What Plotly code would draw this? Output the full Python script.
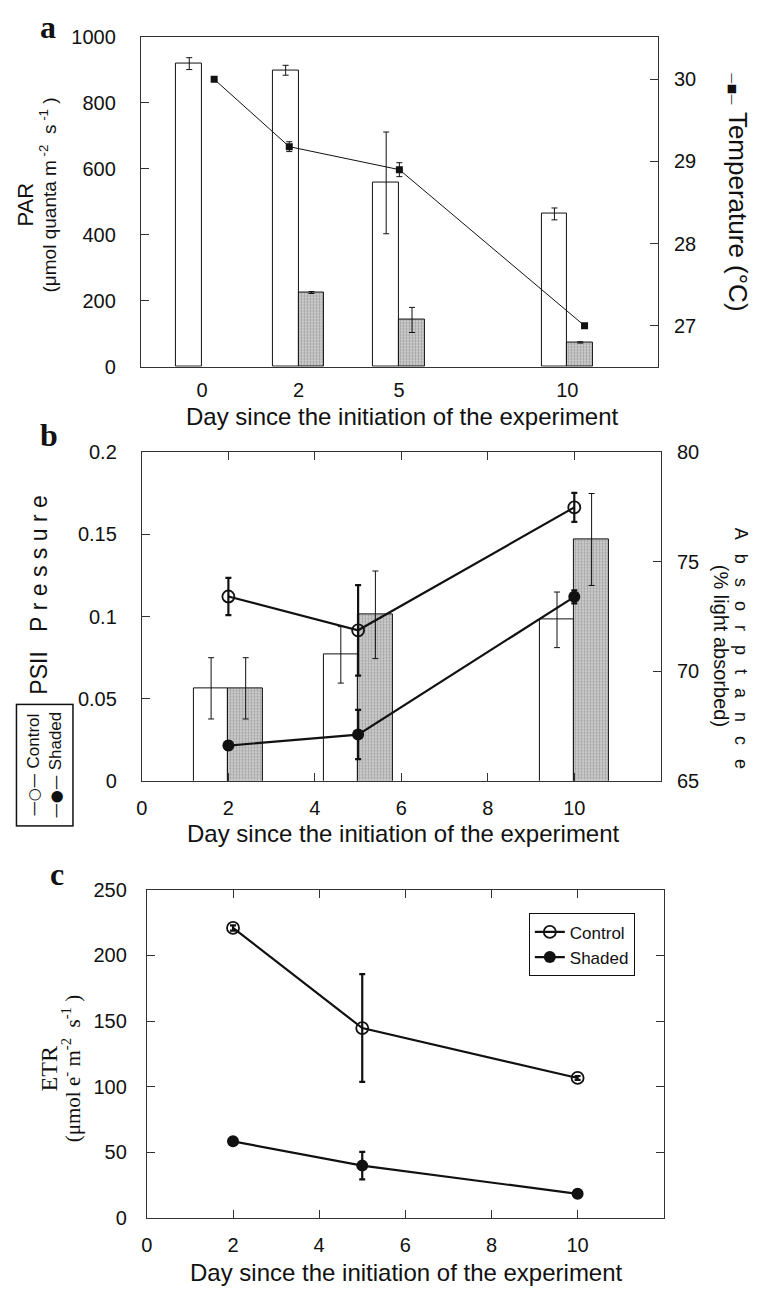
import plotly.graph_objects as go

W, H = 758, 1296

# ---------------- data ----------------
# panel a : PAR bars and temperature
par_day_labels = ["0", "2", "5", "10"]
par_slot = [1.185, 3.05, 4.995, 8.25]          # group positions on panel-a axis
par_control = [918, 898, 557, 463]
par_control_err = [18, 15, 154, 18]
par_shaded = [None, 225, 142, 74]
par_shaded_err = [0, 3, 38, 2]
temp_slot = [1.417, 2.87, 5.0, 8.583]
temperature = [30.0, 29.18, 28.9, 27.0]
temperature_err = [0.0, 0.06, 0.085, 0.02]

# panel b : absorptance bars and PSII pressure
days = [2, 5, 10]
day_ticks = [0, 2, 4, 6, 8, 10]
abs_control = [69.22, 70.75, 72.35]
abs_control_err = [1.4, 1.29, 1.27]
abs_shaded = [69.22, 72.58, 76.02]
abs_shaded_err = [1.4, 2.0, 2.1]
psii_control = [0.1122, 0.0916, 0.1665]
psii_control_err = [0.0113, 0.0276, 0.0088]
psii_shaded = [0.0214, 0.0281, 0.112]
psii_shaded_err = [0.0027, 0.015, 0.004]

# panel c : ETR
etr_control = [221, 144.75, 106.75]
etr_control_err = [2, 41, 1.5]
etr_shaded = [58.5, 40, 18.5]
etr_shaded_err = [1, 10.5, 0]

# ---------------- style ----------------
SANS = "Liberation Sans, Arial, sans-serif"
SERIF = "Liberation Serif, Times New Roman, serif"
INK = "#111111"
AX = "#333333"
TICKF = dict(family=SANS, size=20, color=INK)
shade_marker = dict(color="#c4c4c4", line=dict(color=INK, width=1),
                    pattern=dict(shape=".", fgcolor="#6a6a6a", bgcolor="#d4d4d4",
                                 size=3, solidity=0.45))
white_marker = dict(color="white", line=dict(color=INK, width=1))
thin_err = dict(type="data", color=INK, thickness=1, width=3)
thick_err = dict(type="data", color=INK, thickness=2.2, width=3)


def err(vals, base):
    d = dict(base)
    d["array"] = vals
    return d


def px(x, y):
    return x / W, 1 - y / H


fig = go.Figure()

# ---- panel a ----
fig.add_trace(go.Bar(x=par_slot, y=par_control, width=0.5, offset=-0.5,
                     marker=white_marker, error_y=err(par_control_err, thin_err),
                     xaxis="x", yaxis="y", showlegend=False))
fig.add_trace(go.Bar(x=par_slot, y=par_shaded, width=0.5, offset=0,
                     marker=shade_marker, error_y=err(par_shaded_err, thin_err),
                     xaxis="x", yaxis="y", showlegend=False))
fig.add_trace(go.Scatter(x=temp_slot, y=temperature, mode="lines+markers",
                         line=dict(color=INK, width=1),
                         marker=dict(symbol="square", size=7, color=INK),
                         error_y=err(temperature_err, thin_err),
                         xaxis="x", yaxis="y2", showlegend=False))

# ---- panel b ----
fig.add_trace(go.Bar(x=days, y=abs_control, width=0.8, offset=-0.8,
                     marker=white_marker, error_y=err(abs_control_err, thin_err),
                     xaxis="x2", yaxis="y3", showlegend=False))
fig.add_trace(go.Bar(x=days, y=abs_shaded, width=0.8, offset=0,
                     marker=shade_marker, error_y=err(abs_shaded_err, thin_err),
                     xaxis="x2", yaxis="y3", showlegend=False))
fig.add_trace(go.Scatter(x=days, y=psii_control, mode="lines+markers",
                         line=dict(color=INK, width=2.2),
                         marker=dict(symbol="circle-open", size=12, color=INK,
                                     line=dict(width=1.8, color=INK)),
                         error_y=err(psii_control_err, thick_err),
                         xaxis="x2", yaxis="y4", showlegend=False))
fig.add_trace(go.Scatter(x=days, y=psii_shaded, mode="lines+markers",
                         line=dict(color=INK, width=2.2),
                         marker=dict(symbol="circle", size=12, color=INK),
                         error_y=err(psii_shaded_err, thick_err),
                         xaxis="x2", yaxis="y4", showlegend=False))

# ---- panel c ----
fig.add_trace(go.Scatter(x=days, y=etr_control, mode="lines+markers", name="Control",
                         line=dict(color=INK, width=2.2),
                         marker=dict(symbol="circle-open", size=12, color=INK,
                                     line=dict(width=1.8, color=INK)),
                         error_y=err(etr_control_err, thick_err),
                         xaxis="x3", yaxis="y5"))
fig.add_trace(go.Scatter(x=days, y=etr_shaded, mode="lines+markers", name="Shaded",
                         line=dict(color=INK, width=2.2),
                         marker=dict(symbol="circle", size=12, color=INK),
                         error_y=err(etr_shaded_err, thick_err),
                         xaxis="x3", yaxis="y5"))

common = dict(showgrid=False, zeroline=False, showline=True, linecolor=AX,
              linewidth=1.2, tickfont=TICKF, tickcolor=AX, ticklen=8, tickwidth=1)

# domains
ax_x0, ax_x1 = 136 / W, 657 / W
ay0, ay1 = 1 - 362 / H, 1 - 26 / H
bx0, bx1 = 137 / W, 660 / W
by0, by1 = 1 - 783 / H, 1 - 449 / H
cx0, cx1 = 142 / W, 663 / W
cy0, cy1 = 1 - 1228 / H, 1 - 894 / H

fig.update_layout(
    width=W, height=H, margin=dict(l=0, r=0, t=0, b=0),
    paper_bgcolor="white", plot_bgcolor="rgba(0,0,0,0)",
    barmode="overlay", bargap=0,
    font=dict(family=SANS, color=INK),
    xaxis=dict(common, domain=[ax_x0, ax_x1], range=[0, 10], anchor="y",
               tickvals=par_slot, ticktext=par_day_labels, ticks="",
               mirror=True, ticklabelstandoff=5),
    yaxis=dict(common, domain=[ay0, ay1], range=[0, 1000], dtick=200, anchor="x",
               ticks="inside", side="left", ticklabelstandoff=20),
    yaxis2=dict(common, range=[26.5, 30.52], tickvals=[27, 28, 29, 30], anchor="x",
                overlaying="y", side="right", ticks="inside", ticklabelstandoff=11),
    xaxis2=dict(common, domain=[bx0, bx1], range=[0, 12], tickvals=day_ticks,
                anchor="y3", ticks="inside", mirror="ticks", ticklabelstandoff=9),
    yaxis3=dict(common, domain=[by0, by1], range=[65, 80], dtick=5, anchor="x2",
                side="right", ticks="inside", ticklabelstandoff=11),
    yaxis4=dict(common, range=[0, 0.2], tickvals=[0, 0.05, 0.1, 0.15, 0.2],
                ticktext=["0", "0.05", "0.1", "0.15", "0.2"], anchor="x2",
                overlaying="y3", side="left", ticks="inside", ticklabelstandoff=20),
    xaxis3=dict(common, domain=[cx0, cx1], range=[0, 12], tickvals=day_ticks,
                anchor="y5", ticks="inside", mirror="ticks", ticklabelstandoff=9),
    yaxis5=dict(common, domain=[cy0, cy1], range=[0, 250], dtick=50, anchor="x3",
                ticks="inside", mirror="ticks", ticklabelstandoff=15),
    legend=dict(x=527 / W, y=1 - 918 / H, xanchor="left", yanchor="top",
                bordercolor=INK, borderwidth=1, bgcolor="white",
                font=dict(family=SANS, size=17, color=INK),
                tracegroupgap=0, itemwidth=30),
)

ann = []


def text(x, y, s, size, family=SANS, angle=0, **kw):
    xx, yy = px(x, y)
    d = dict(x=xx, y=yy, xref="paper", yref="paper", text=s, showarrow=False,
             textangle=angle, xanchor="center", yanchor="middle",
             font=dict(family=family, size=size, color=INK))
    d.update(kw)
    ann.append(d)


def sym(s, size):
    return f"<span style='font-family:DejaVu Sans;font-size:{size}px'>{s}</span>"


# panel letters
text(42, 16, "<b>a</b>", 32, SERIF)
text(43, 431, "<b>b</b>", 32, SERIF)
text(51, 878, "<b>c</b>", 32, SERIF)

# x titles
XT = "Day since the initiation of the experiment"
text(400, 413, XT, 24)
text(401, 837, XT, 24)
text(404, 1283, XT, 24)

# panel a y titles
text(20, 197, "PAR", 22, angle=-90)
text(42, 187, "(μmol quanta m<sup> -2</sup>  s<sup> -1</sup> )", 19, angle=-90)
text(738, 184, sym("—■—", 11) + " Temperature (°C)", 26, angle=90)

# panel b y titles
nb = "\u00a0"
psii = "PSII" + nb * 3 + nb.join("Pressure")
text(33, 594, psii, 23, angle=-90)
absorp = ("\u2002" + nb).join("Absorptance")
text(741, 648, absorp, 18, angle=90)
text(721, 646, "(% light absorbed)", 20, angle=90)

# panel b legend (rotated)
text(39, 767, sym("—○—", 15) + " Control<br>" + sym("—●—", 15) + " Shaded", 17,
     angle=-90, bordercolor=INK, borderwidth=1.5, borderpad=7, bgcolor="white")

# panel c y title
text(43, 1076, "ETR", 24, SERIF, angle=-90)
text(66, 1076, "(μmol e<sup>-</sup> m<sup>-2</sup>  s<sup>-1</sup> )", 21, SERIF, angle=-90)

fig.update_layout(annotations=ann)
fig.write_html("out.html")
